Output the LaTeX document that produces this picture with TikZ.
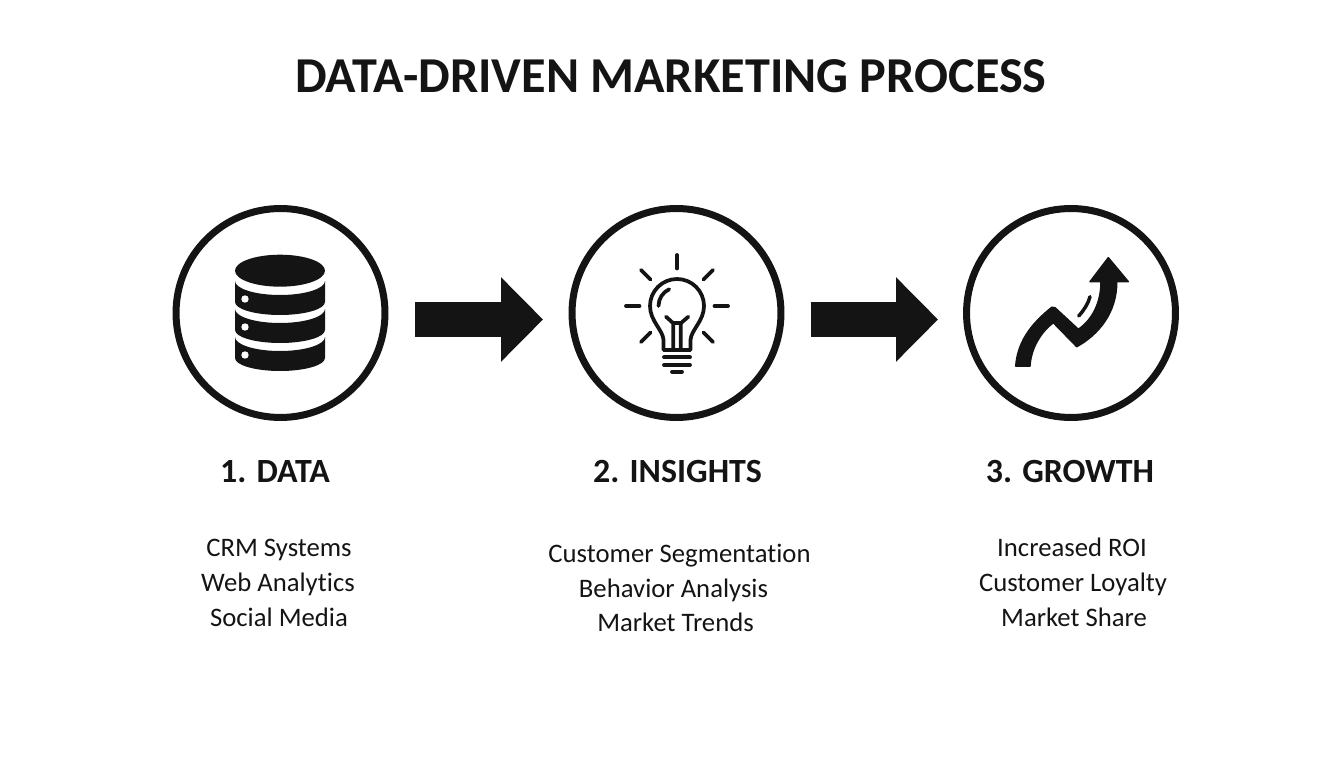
\documentclass[tikz,border=0pt]{standalone}
\usepackage{fontspec}
\setmainfont{Carlito}[RawFeature=-liga]
\usetikzlibrary{arrows.meta}
\definecolor{ink}{HTML}{141414}
\tikzset{
  stage/.style={circle,draw=ink,line width=0.14cm,minimum size=4.18cm,inner sep=0pt},
  headline/.style={text=ink,font=\bfseries\fontsize{19.3}{23}\selectfont,inner sep=0pt,anchor=base},
  item/.style={text=ink,font=\fontsize{15.2}{19}\selectfont,inner sep=0pt,anchor=base},
  flow/.style={ink,line width=0.7cm,-{Triangle[length=0.84cm,width=1.64cm]}},
  bulbline/.style={ink,line width=0.075cm,line cap=round,line join=round}
}
\begin{document}
\begin{tikzpicture}[x=0.02cm,y=0.02cm]
\useasboundingbox (0,0) rectangle (1344,768);

\node[text=ink,font=\bfseries\fontsize{28.6}{34}\selectfont,inner sep=0pt,anchor=base] (title) at (671,675) {DATA-DRIVEN MARKETING PROCESS};

\node[stage] (data) at (280.5,455) {};
\node[stage] (insights) at (676.5,455) {};
\node[stage] (growth) at (1071,455) {};

\draw[flow,shorten <=0.54cm,shorten >=0.51cm] ([yshift=-0.13cm]data.east) -- ([yshift=-0.13cm]insights.west);
\draw[flow,shorten <=0.53cm,shorten >=0.5cm] ([yshift=-0.13cm]insights.east) -- ([yshift=-0.13cm]growth.west);

% database
\fill[ink] (280,497.3) ellipse (45 and 16);
\foreach \y in {487,459,431} {
  \fill[ink] (235,\y) arc (180:360:45 and 14) -- ++(0,-21) arc (360:180:45 and 13) -- cycle;
  \fill[white] (245,\y-18) circle (3.7);
}

% bulb
\draw[bulbline] (663.5,418) -- (663.5,428) .. controls (663,438) and (650,447) .. (650,462)
  arc (180:0:27) .. controls (704,447) and (691,438) .. (690.5,428) -- (690.5,418) -- cycle;
\draw[bulbline] (658.5,462) arc (180:115:18.5);
\draw[bulbline] (666,451.3) -- (673.3,444.7) -- (673.3,419.7);
\draw[bulbline] (688.3,451.3) -- (680.7,444.7) -- (680.7,419.7);
\draw[bulbline] (673.3,444.7) -- (680.7,444.7);
\draw[bulbline] (664,410.7) -- (690,410.7);
\draw[bulbline] (664,403) -- (690,403);
\draw[bulbline] (672,396.3) -- (682,396.3);
\foreach \a in {0,45,90,135,180,225,315}
  \draw[bulbline,shift={(677,462)}] (\a:37.5) -- (\a:51);

% growth arrow
\fill[ink,draw=ink,line width=0.03cm,line join=round] (1015.7,402) .. controls (1018,430) and (1035,447) .. (1051.7,460.7)
  -- (1055,460.3) -- (1078.3,438.7) .. controls (1092,448) and (1101,465) .. (1101,486.3)
  -- (1090,486.3) -- (1108.3,510.3) -- (1128.3,486.3) -- (1116.7,486.3)
  .. controls (1117,455) and (1098,433) .. (1076.7,421.3) -- (1053.3,445.3)
  .. controls (1041,436) and (1031,420) .. (1030,402) -- cycle;
\draw[ink,line width=0.07cm,line cap=round] (1078.7,452) .. controls (1084,458) and (1088,464) .. (1090,471.3);

\node[headline] (datahead) at (275,286) {1. DATA};
\node[headline] (insightshead) at (677.5,286) {2. INSIGHTS};
\node[headline] (growthhead) at (1070,286) {3. GROWTH};

\node[item] (crm) at (279,212) {CRM Systems};
\node[item] (web) at (278,177) {Web Analytics};
\node[item] (social) at (279,142) {Social Media};

\node[item] (segment) at (679.5,206) {Customer Segmentation};
\node[item] (behavior) at (673.5,171) {Behavior Analysis};
\node[item] (trends) at (675.5,137) {Market Trends};

\node[item] (roi) at (1072,212) {Increased ROI};
\node[item] (loyalty) at (1073,177) {Customer Loyalty};
\node[item] (share) at (1074,142) {Market Share};
\end{tikzpicture}
\end{document}
